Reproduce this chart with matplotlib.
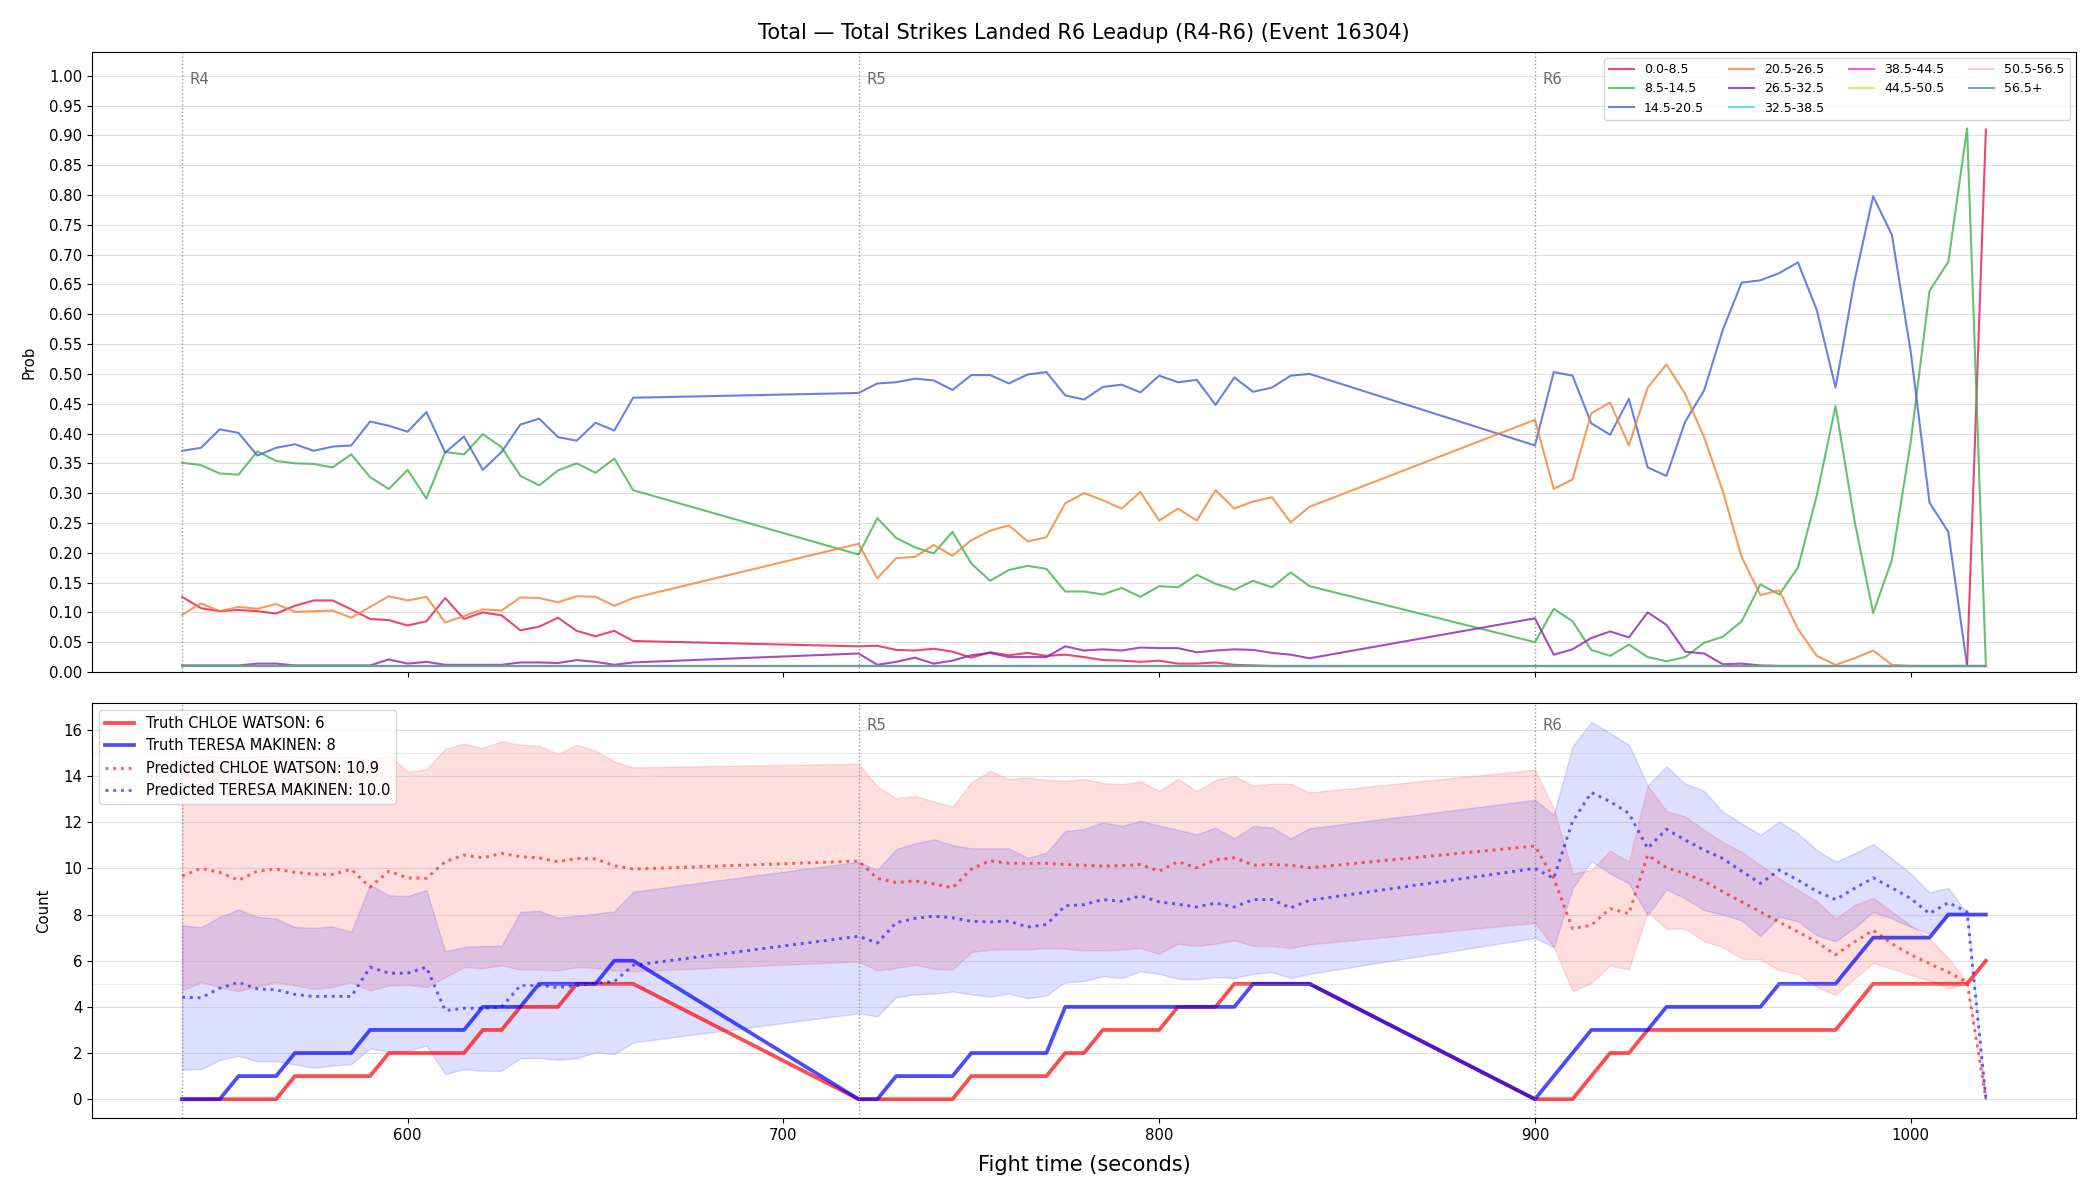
"""
Total strikes landed, R6 leadup (R4-R6), event 16304.
Top: probability per total-strikes bin. Bottom: truth vs predicted counts.
"""
import matplotlib
matplotlib.use('Agg')  # 无GUI后端
import matplotlib.pyplot as plt

# ---- data -------------------------------------------------------------
# one sample every 5 s inside each round
t_r4 = list(range(540, 661, 5))
t_r5 = list(range(720, 841, 5))
t_r6 = list(range(900, 1021, 5))
fight_time = t_r4 + t_r5 + t_r6

round_starts = [540, 720, 900]
round_names = ['R4', 'R5', 'R6']

bin_labels = ['0.0-8.5', '8.5-14.5', '14.5-20.5', '20.5-26.5', '26.5-32.5',
              '32.5-38.5', '38.5-44.5', '44.5-50.5', '50.5-56.5', '56.5+']
bin_colors = ['#e6194b', '#3cb44b', '#4363d8', '#f58231', '#911eb4',
              '#42d4f4', '#f032e6', '#bfef45', '#fabed4', '#469990']

p_0_8 = [0.126, 0.107, 0.102, 0.104, 0.102, 0.098, 0.111, 0.120, 0.120, 0.105, 0.089, 0.087, 0.078,
         0.085, 0.124, 0.089, 0.100, 0.095, 0.070, 0.076, 0.091, 0.069, 0.060, 0.069, 0.052,
         0.043, 0.044, 0.037, 0.036, 0.039, 0.034, 0.024, 0.033, 0.028, 0.032, 0.027, 0.029, 0.025,
         0.020, 0.019, 0.017, 0.019, 0.014, 0.014, 0.016, 0.012, 0.011, 0.010, 0.010, 0.010,
         0.010, 0.010, 0.010, 0.010, 0.010, 0.010, 0.010, 0.010, 0.010, 0.010, 0.010, 0.010, 0.010,
         0.010, 0.010, 0.010, 0.010, 0.010, 0.010, 0.010, 0.010, 0.010, 0.010, 0.010, 0.910]
p_8_14 = [0.351, 0.347, 0.333, 0.331, 0.370, 0.354, 0.350, 0.349, 0.343, 0.365, 0.327, 0.307, 0.339,
          0.291, 0.369, 0.365, 0.399, 0.377, 0.329, 0.313, 0.338, 0.350, 0.334, 0.358, 0.305,
          0.197, 0.258, 0.225, 0.209, 0.199, 0.235, 0.182, 0.153, 0.171, 0.178, 0.173, 0.135, 0.135,
          0.130, 0.141, 0.126, 0.144, 0.142, 0.163, 0.148, 0.138, 0.153, 0.142, 0.167, 0.144,
          0.050, 0.106, 0.085, 0.037, 0.027, 0.046, 0.025, 0.018, 0.025, 0.049, 0.059, 0.085, 0.147,
          0.130, 0.175, 0.296, 0.446, 0.255, 0.099, 0.188, 0.386, 0.639, 0.688, 0.912, 0.010]
p_14_20 = [0.371, 0.376, 0.407, 0.401, 0.363, 0.376, 0.382, 0.371, 0.378, 0.380, 0.420, 0.413, 0.403,
           0.436, 0.368, 0.395, 0.339, 0.369, 0.415, 0.425, 0.394, 0.388, 0.418, 0.405, 0.460,
           0.468, 0.484, 0.486, 0.492, 0.489, 0.473, 0.498, 0.498, 0.484, 0.499, 0.503, 0.464, 0.457,
           0.478, 0.482, 0.469, 0.497, 0.486, 0.490, 0.448, 0.494, 0.470, 0.477, 0.497, 0.500,
           0.380, 0.503, 0.497, 0.417, 0.398, 0.458, 0.343, 0.329, 0.420, 0.472, 0.574, 0.653, 0.657,
           0.669, 0.687, 0.607, 0.477, 0.655, 0.798, 0.733, 0.537, 0.284, 0.235, 0.010, 0.010]
p_20_26 = [0.096, 0.115, 0.102, 0.109, 0.106, 0.114, 0.101, 0.102, 0.103, 0.091, 0.109, 0.127, 0.120,
           0.126, 0.083, 0.094, 0.105, 0.103, 0.125, 0.124, 0.117, 0.127, 0.126, 0.111, 0.124,
           0.215, 0.157, 0.191, 0.193, 0.213, 0.195, 0.221, 0.237, 0.246, 0.219, 0.226, 0.283, 0.300,
           0.288, 0.274, 0.302, 0.254, 0.274, 0.254, 0.305, 0.274, 0.286, 0.293, 0.251, 0.277,
           0.423, 0.307, 0.323, 0.434, 0.452, 0.380, 0.477, 0.516, 0.466, 0.394, 0.303, 0.193, 0.129,
           0.137, 0.072, 0.027, 0.012, 0.023, 0.036, 0.012, 0.010, 0.010, 0.010, 0.010, 0.010]
p_26_32 = [0.011, 0.011, 0.011, 0.011, 0.014, 0.014, 0.011, 0.011, 0.011, 0.011, 0.011, 0.021, 0.014,
           0.017, 0.012, 0.012, 0.012, 0.012, 0.016, 0.016, 0.015, 0.020, 0.017, 0.012, 0.016,
           0.031, 0.012, 0.017, 0.024, 0.014, 0.019, 0.028, 0.032, 0.025, 0.025, 0.025, 0.043, 0.036,
           0.038, 0.036, 0.041, 0.040, 0.040, 0.033, 0.036, 0.038, 0.037, 0.032, 0.029, 0.023,
           0.090, 0.029, 0.038, 0.057, 0.068, 0.058, 0.100, 0.079, 0.034, 0.031, 0.013, 0.014, 0.011,
           0.010, 0.010, 0.010, 0.010, 0.010, 0.010, 0.010, 0.010, 0.010, 0.010, 0.010, 0.010]
# the upper bins sit on the 0.01 floor the whole time
p_floor = [0.010] * len(fight_time)
bin_probs = [p_0_8, p_8_14, p_14_20, p_20_26, p_26_32,
             p_floor, p_floor, p_floor, p_floor, p_floor]

truth_chloe = [0, 0, 0, 0, 0, 0, 1, 1, 1, 1, 1, 2, 2, 2, 2, 2, 3, 3, 4, 4, 4, 5, 5, 5, 5,
               0, 0, 0, 0, 0, 0, 1, 1, 1, 1, 1, 2, 2, 3, 3, 3, 3, 4, 4, 4, 5, 5, 5, 5, 5,
               0, 0, 0, 1, 2, 2, 3, 3, 3, 3, 3, 3, 3, 3, 3, 3, 3, 4, 5, 5, 5, 5, 5, 5, 6]
truth_teresa = [0, 0, 0, 1, 1, 1, 2, 2, 2, 2, 3, 3, 3, 3, 3, 3, 4, 4, 4, 5, 5, 5, 5, 6, 6,
                0, 0, 1, 1, 1, 1, 2, 2, 2, 2, 2, 4, 4, 4, 4, 4, 4, 4, 4, 4, 4, 5, 5, 5, 5,
                0, 1, 2, 3, 3, 3, 3, 4, 4, 4, 4, 4, 4, 5, 5, 5, 5, 6, 7, 7, 7, 7, 8, 8, 8]

pred_chloe = [9.67, 10.0, 9.83, 9.49, 9.88, 9.97, 9.83, 9.75, 9.74, 9.96, 9.19, 9.88, 9.59,
              9.57, 10.29, 10.58, 10.46, 10.65, 10.51, 10.46, 10.29, 10.43, 10.41, 10.12, 9.97,
              10.32, 9.57, 9.39, 9.46, 9.33, 9.16, 9.97, 10.33, 10.22, 10.22, 10.22, 10.17, 10.14,
              10.10, 10.12, 10.17, 9.88, 10.29, 10.03, 10.38, 10.46, 10.14, 10.17, 10.14, 10.03,
              10.97, 9.57, 7.39, 7.54, 8.26, 8.04, 10.58, 10.03, 9.78, 9.45, 8.99, 8.55, 8.12,
              7.68, 7.25, 6.81, 6.26, 6.81, 7.32, 6.74, 6.26, 5.87, 5.51, 5.07, 0.0]
pred_teresa = [4.42, 4.39, 4.81, 5.06, 4.78, 4.74, 4.54, 4.45, 4.46, 4.45, 5.72, 5.46, 5.46,
               5.72, 3.84, 3.94, 3.94, 3.99, 4.93, 4.93, 4.84, 4.92, 5.02, 5.10, 5.80,
               7.06, 6.77, 7.65, 7.83, 7.93, 7.86, 7.71, 7.68, 7.72, 7.46, 7.57, 8.38, 8.43,
               8.65, 8.58, 8.81, 8.55, 8.45, 8.33, 8.50, 8.33, 8.65, 8.65, 8.29, 8.62,
               10.0, 9.57, 12.03, 13.29, 12.90, 12.39, 10.87, 11.70, 11.23, 10.80, 10.43, 9.88, 9.35,
               9.93, 9.49, 9.01, 8.65, 9.13, 9.59, 9.16, 8.70, 8.04, 8.52, 8.12, 0.0]

chloe_lo = [4.71, 5.07, 4.86, 4.68, 4.88, 5.07, 4.93, 4.78, 4.86, 5.07, 4.71, 4.93, 4.96,
            4.86, 5.29, 5.72, 5.68, 5.80, 5.62, 5.62, 5.58, 5.72, 5.68, 5.58, 5.54,
            5.97, 5.58, 5.68, 5.83, 5.65, 5.62, 6.38, 6.48, 6.49, 6.49, 6.55, 6.52, 6.45,
            6.45, 6.48, 6.55, 6.30, 6.74, 6.64, 6.74, 6.88, 6.64, 6.64, 6.55, 6.71,
            7.64, 6.59, 4.68, 5.03, 5.80, 5.62, 8.12, 7.39, 7.39, 6.84, 6.59, 6.09, 6.06,
            5.58, 5.43, 4.86, 4.52, 5.22, 5.90, 5.65, 5.39, 5.14, 4.81, 5.00, 0.0]
chloe_hi = [14.75, 14.9, 14.85, 14.8, 14.85, 14.9, 14.85, 14.85, 14.8, 14.85, 14.7, 14.9, 14.2,
            14.28, 15.19, 15.41, 15.22, 15.51, 15.36, 15.32, 14.96, 15.36, 15.10, 14.64, 14.38,
            14.54, 13.55, 13.04, 13.14, 12.90, 12.68, 13.74, 14.23, 13.87, 13.94, 13.84, 13.80, 13.87,
            13.70, 13.65, 13.77, 13.36, 13.88, 13.36, 13.84, 14.01, 13.59, 13.67, 13.67, 13.29,
            14.28, 12.61, 9.78, 9.93, 10.77, 10.29, 13.59, 12.49, 12.25, 11.67, 11.13, 10.72, 10.14,
            9.57, 9.06, 8.58, 7.83, 8.41, 8.72, 8.12, 7.54, 6.96, 6.12, 5.07, 0.0]
teresa_lo = [1.28, 1.30, 1.70, 1.88, 1.64, 1.64, 1.51, 1.36, 1.45, 1.52, 2.20, 2.06, 2.10,
             2.32, 1.09, 1.30, 1.23, 1.23, 1.78, 1.78, 1.71, 1.77, 2.03, 1.96, 2.46,
             3.72, 3.59, 4.42, 4.54, 4.57, 4.67, 4.54, 4.45, 4.57, 4.38, 4.49, 5.07, 5.12,
             5.33, 5.25, 5.54, 5.43, 5.22, 5.19, 5.29, 5.25, 5.43, 5.51, 5.25, 5.43,
             6.99, 6.59, 9.13, 10.32, 9.78, 9.35, 7.97, 9.09, 8.70, 8.19, 8.00, 7.75, 7.07,
             7.90, 7.71, 7.10, 6.84, 7.42, 8.12, 7.83, 7.46, 7.17, 7.97, 8.04, 0.0]
teresa_hi = [7.54, 7.45, 7.90, 8.22, 7.90, 7.83, 7.46, 7.43, 7.48, 7.25, 9.30, 8.84, 8.80,
             9.06, 6.41, 6.59, 6.64, 6.64, 8.12, 8.16, 7.86, 7.94, 8.04, 8.14, 8.99,
             10.29, 9.93, 10.84, 11.09, 11.26, 11.01, 10.87, 10.87, 10.87, 10.46, 10.68, 11.62, 11.70,
             12.00, 11.84, 12.06, 11.86, 11.67, 11.48, 11.77, 11.30, 11.84, 11.77, 11.30, 11.74,
             12.97, 12.32, 15.29, 16.35, 15.87, 15.36, 13.59, 14.42, 13.67, 13.36, 12.46, 11.96, 11.45,
             12.03, 11.52, 10.80, 10.29, 10.65, 11.06, 10.43, 9.78, 8.96, 9.16, 8.04, 0.0]

# ---- figure -----------------------------------------------------------
FS = 10.7  # base font size

fig, (ax1, ax2) = plt.subplots(2, 1, figsize=(21, 12), dpi=100, sharex=True,
                               gridspec_kw={'height_ratios': [620, 415]})
fig.subplots_adjust(left=0.0438, right=0.9886, top=0.9567, bottom=0.0683, hspace=0.06)

# 上图：各区间概率
for lab, col, probs in zip(bin_labels, bin_colors, bin_probs):
    ax1.plot(fight_time, probs, color=col, alpha=0.8, linewidth=1.5, label=lab)

ax1.set_ylim(0, 1.04)
ax1.set_yticks([i * 0.05 for i in range(21)])
ax1.yaxis.set_major_formatter(matplotlib.ticker.FormatStrFormatter('%.2f'))
ax1.set_ylabel('Prob', fontsize=FS, labelpad=9)
ax1.set_title('Total \u2014 Total Strikes Landed R6 Leadup (R4-R6) (Event 16304)',
              fontsize=15, pad=9)
ax1.grid(axis='y', alpha=0.4)
ax1.legend(loc='upper right', ncol=4, fontsize=9)
ax1.tick_params(labelbottom=False, labelsize=FS)

# 下图：真实值与预测
ax2.fill_between(fight_time, chloe_lo, chloe_hi, color='red', alpha=0.13)
ax2.fill_between(fight_time, teresa_lo, teresa_hi, color='blue', alpha=0.13)
ax2.plot(fight_time, truth_chloe, color='red', linewidth=2.7, alpha=0.7,
         label='Truth CHLOE WATSON: 6')
ax2.plot(fight_time, truth_teresa, color='blue', linewidth=2.7, alpha=0.7,
         label='Truth TERESA MAKINEN: 8')
ax2.plot(fight_time, pred_chloe, color='red', linestyle=':', linewidth=2.1, alpha=0.6,
         label='Predicted CHLOE WATSON: 10.9')
ax2.plot(fight_time, pred_teresa, color='blue', linestyle=':', linewidth=2.1, alpha=0.6,
         label='Predicted TERESA MAKINEN: 10.0')
for level in (5, 15):
    ax2.axhline(level, color='#b0b0b0', linewidth=0.8, alpha=0.25)

ax2.set_ylabel('Count', fontsize=FS, labelpad=9)
ax2.set_xlabel('Fight time (seconds)', fontsize=15, labelpad=9)
ax2.grid(axis='y', alpha=0.4)
ax2.legend(loc='upper left', fontsize=10.5)
ax2.tick_params(labelsize=FS)

# round markers (the R4 tag of the lower panel sits under its legend)
for ax, ytxt in ((ax1, 0.955), (ax2, 0.945)):
    for t0, name in zip(round_starts, round_names):
        ax.axvline(t0, color='gray', linestyle=':', linewidth=1, alpha=0.8)
        if ax is ax2 and name == 'R4':
            continue
        ax.text(t0 + 2, ytxt, name, transform=ax.get_xaxis_transform(),
                color='dimgray', fontsize=FS, va='center', ha='left')

plt.savefig('out.png', dpi=100, facecolor='white')
plt.close(fig)
